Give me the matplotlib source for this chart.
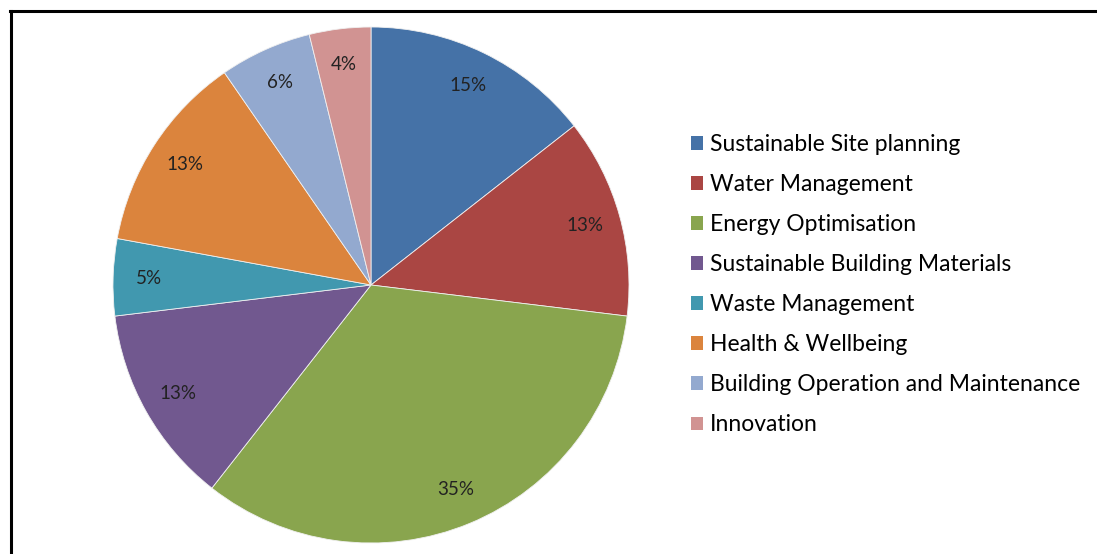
import numpy as np
import matplotlib.pyplot as plt
from matplotlib.lines import Line2D
from matplotlib.patches import Patch

categories = [
    "Sustainable Site planning",
    "Water Management",
    "Energy Optimisation",
    "Sustainable Building Materials",
    "Waste Management",
    "Health & Wellbeing",
    "Building Operation and Maintenance",
    "Innovation",
]
shares = [15, 13, 35, 13, 5, 13, 6, 4]
colors = ["#4572A7", "#AA4643", "#89A54E", "#71588F",
          "#4198AF", "#DB843D", "#93A9CF", "#D19392"]

plt.rcParams['font.family'] = ['Lato', 'DejaVu Sans']

W, H = 1097, 554
fig = plt.figure(figsize=(W / 100, H / 100), dpi=100)

# pie centred at (371, 285) px with radius ~258 px
cx, cy, r = 371, 285, 258
ax = fig.add_axes([(cx - r) / W, (H - cy - r) / H, 2 * r / W, 2 * r / H])
wedges, _ = ax.pie(shares, colors=colors, startangle=90, counterclock=False,
                   wedgeprops=dict(linewidth=0.6, edgecolor="#f0f0f0"))
for w, v in zip(wedges, shares):
    ang = np.deg2rad((w.theta1 + w.theta2) / 2)
    ax.text(0.86 * np.cos(ang), 0.86 * np.sin(ang), f"{v}%",
            ha="center", va="center", fontsize=13.5, color="#222222")
ax.set_xlim(-1, 1)
ax.set_ylim(-1, 1)
ax.set_aspect("equal")
ax.axis("off")

# legend
handles = [Patch(facecolor=c, edgecolor="none") for c in colors]
fig.legend(handles, categories, loc="upper left",
           bbox_to_anchor=(682 / W, 1 - 125 / H), frameon=False,
           fontsize=16.5, handlelength=0.52, handleheight=0.52,
           handletextpad=0.3, labelspacing=0.83, borderaxespad=0)

# frame of the cropped chart area
fig.add_artist(Line2D([10.5 / W, 10.5 / W], [0, 1 - 11 / H], color="black", lw=2.2))
fig.add_artist(Line2D([10 / W, 1], [1 - 11 / H, 1 - 11 / H], color="black", lw=2.2))

fig.savefig("out.png", dpi=100)
